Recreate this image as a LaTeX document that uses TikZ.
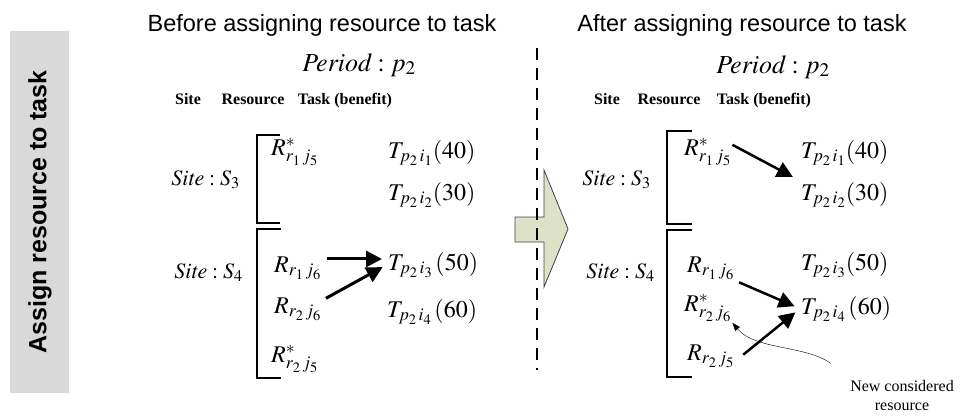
\documentclass[tikz,border=0pt]{standalone}
\usepackage{mathptmx}
\usepackage{fontspec}
\setmainfont{Liberation Serif}
\newfontfamily\arialfont{Liberation Sans}
\usetikzlibrary{arrows.meta, positioning}
\definecolor{sage}{HTML}{DCE1C8}
\definecolor{sidegray}{HTML}{D9D9D9}

\begin{document}
\begin{tikzpicture}[
  x=1pt, y=-1pt,
  title/.style={font=\fontsize{23.5}{28}\selectfont\arialfont},
  period/.style={font=\fontsize{26}{30}\selectfont, anchor=base},
  head/.style={font=\fontsize{16}{19}\selectfont\bfseries, anchor=base},
  site/.style={font=\fontsize{22}{26}\selectfont, anchor=base east, inner sep=1pt},
  item/.style={font=\fontsize{24}{28}\selectfont, anchor=base west, inner sep=1pt},
  bracket/.style={line width=2.5pt},
  assign/.style={-{Triangle[length=16pt,width=16pt]}, line width=3pt},
  note/.style={-{Triangle[length=8pt,width=6pt]}, thin}
]
\useasboundingbox (0,0) rectangle (963,416);

% side label
\fill[sidegray] (10,31) rectangle (69,393);
\node[rotate=90, font=\fontsize{25}{30}\selectfont\arialfont\bfseries] (side) at (40,212) {Assign resource to task};

% before
\node[title, anchor=base] (before) at (322,31) {Before assigning resource to task};
\node[period] (perl) at (359,71) {$\mathit{Period}:p_2$};
\node[head] (sitel) at (188,104) {Site};
\node[head] (resl) at (253,104) {Resource};
\node[head] (taskl) at (345,104) {Task (benefit)};

\node[site] (s3l) at (241,185) {$\mathit{Site}:S_3$};
\node[site] (s4l) at (244,278) {$\mathit{Site}:S_4$};
\draw[bracket] (280,135) -- (257,135) -- (257,223) -- (280,223);
\draw[bracket] (281,229) -- (257,229) -- (257,378) -- (281,378);

\node[item] (r15l) at (270,155) {$R^{*}_{r_1\,j_5}$};
\node[item] (r16l) at (273,272) {$R_{r_1\,j_6}$};
\node[item] (r26l) at (273,313) {$R_{r_2\,j_6}$};
\node[item] (r25l) at (270,362) {$R^{*}_{r_2\,j_5}$};
\node[item] (t1l) at (387,158) {$T_{p_2\,i_1}(40)$};
\node[item] (t2l) at (387,200) {$T_{p_2\,i_2}(30)$};
\node[item] (t3l) at (387,270) {$T_{p_2\,i_3}\,(50)$};
\node[item] (t4l) at (386,317) {$T_{p_2\,i_4}\,(60)$};

\draw[assign, shorten <=5pt, shorten >=5pt] ([yshift=9pt]r16l.east) -- ([yshift=9pt]r16l.east -| t3l.west);
\draw[assign, shorten <=4pt, shorten >=5pt] ([yshift=-4pt]r26l.north east) -- (t3l.west);

% arrow and divider
\draw[fill=sage, draw=black!75, line width=0.8pt] (515,217) -- (544,217) -- (544,170) -- (568,229)
  -- (544,287) -- (544,242) -- (515,242) -- cycle;
\draw[line width=2.5pt, dash pattern=on 12pt off 8pt] (537,48) -- (537,370);

% after
\node[title, anchor=base] (after) at (742,31) {After assigning resource to task};
\node[period] (perr) at (773,73) {$\mathit{Period}:p_2$};
\node[head] (siter) at (607,104) {Site};
\node[head] (resr) at (669,104) {Resource};
\node[head] (taskr) at (764,104) {Task (benefit)};

\node[site] (s3r) at (652,185) {$\mathit{Site}:S_3$};
\node[site] (s4r) at (656,278) {$\mathit{Site}:S_4$};
\draw[bracket] (692,131) -- (667,131) -- (667,224) -- (692,224);
\draw[bracket] (692,230) -- (667,230) -- (667,377) -- (692,377);

\node[item] (r15r) at (683,155) {$R^{*}_{r_1\,j_5}$};
\node[item] (r16r) at (686,272) {$R_{r_1\,j_6}$};
\node[item] (r26r) at (683,311) {$R^{*}_{r_2\,j_6}$};
\node[item] (r25r) at (686,360) {$R_{r_2\,j_5}$};
\node[item] (t1r) at (800,158) {$T_{p_2\,i_1}(40)$};
\node[item] (t2r) at (800,200) {$T_{p_2\,i_2}(30)$};
\node[item] (t3r) at (800,270) {$T_{p_2\,i_3}(50)$};
\node[item] (t4r) at (800,314) {$T_{p_2\,i_4}\,(60)$};

\draw[assign, line width=2.5pt, shorten <=0pt, shorten >=8pt] ([yshift=7pt]r15r.east) -- (t2r.north west);
\draw[assign, line width=2.5pt, shorten <=4pt, shorten >=6pt] (r16r.south east) -- (t4r.west);
\draw[assign, line width=2.5pt, shorten <=10pt, shorten >=6pt] ([yshift=-5pt]r25r.east) -- (t4r.west);

\node[font=\fontsize{16}{19}\selectfont, align=center] (newres) at (902,396) {New considered\\resource};
\draw[note] ([xshift=-16pt,yshift=14pt]newres.north west) .. controls (805,345) and (755,350) .. (r26r.south east);
\end{tikzpicture}
\end{document}
